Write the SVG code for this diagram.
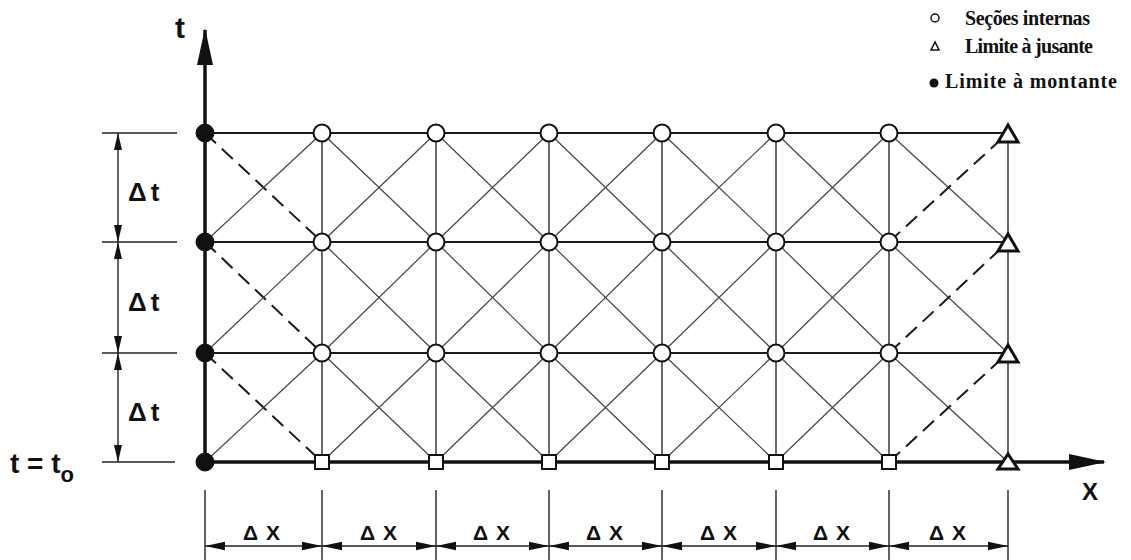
<svg xmlns="http://www.w3.org/2000/svg" width="1131" height="560" viewBox="0 0 1131 560">
<style>
  .grid-h { stroke:#1a1a1a; stroke-width:2; fill:none; }
  .grid-v { stroke:#2a2a2a; stroke-width:1.4; fill:none; }
  .diag { stroke:#444; stroke-width:1.2; fill:none; }
  .dash { stroke:#1a1a1a; stroke-width:2; fill:none; stroke-dasharray:15 8; }
  .axis { stroke:#111; stroke-width:3.5; fill:none; }
  .dim { stroke:#222; stroke-width:1.4; fill:none; }
  .dimarrow { stroke:#222; stroke-width:1.4; fill:none; marker-start:url(#ah); marker-end:url(#ah); }
  .dimarrow-v { stroke:#222; stroke-width:1.4; fill:none; marker-start:url(#ahv); marker-end:url(#ahv); }
  .open { fill:#fff; stroke:#111; stroke-width:2; }
  .fill { fill:#111; stroke:#111; stroke-width:1; }
  .sq { fill:#fff; stroke:#111; stroke-width:2; }
  .tri { fill:#fff; stroke:#111; stroke-width:3; stroke-linejoin:miter; }
  .lbl { font-family:"Liberation Sans", Arial, sans-serif; font-weight:bold; fill:#111; }
  .leg { font-family:"Liberation Serif", "Times New Roman", serif; font-weight:bold; font-size:20px; fill:#111; }
</style>
<defs>
  <marker id="ah" viewBox="0 0 20 10" refX="20" refY="5" markerWidth="20" markerHeight="10" markerUnits="userSpaceOnUse" orient="auto-start-reverse">
    <path d="M0,0.8 L20,5 L0,9.2 Z" fill="#111"/>
  </marker>
  <marker id="ahv" viewBox="0 0 17 9" refX="17" refY="4.5" markerWidth="17" markerHeight="9" markerUnits="userSpaceOnUse" orient="auto-start-reverse">
    <path d="M0,0.5 L17,4.5 L0,8.5 Z" fill="#111"/>
  </marker>
  <marker id="axh" viewBox="0 0 37 16" refX="35" refY="8" markerWidth="37" markerHeight="16" markerUnits="userSpaceOnUse" orient="auto">
    <path d="M0,0 L37,8 L0,16 Z" fill="#111"/>
  </marker>
</defs>

<g id="connectors">
  <!-- horizontal grid lines -->
  <line class="grid-h" x1="205" y1="133" x2="1008" y2="133"/>
  <line class="grid-h" x1="205" y1="242" x2="1008" y2="242"/>
  <line class="grid-h" x1="205" y1="353" x2="1008" y2="353"/>
  <!-- vertical grid lines -->
  <line class="grid-v" x1="322" y1="133" x2="322" y2="462"/>
  <line class="grid-v" x1="436" y1="133" x2="436" y2="462"/>
  <line class="grid-v" x1="549" y1="133" x2="549" y2="462"/>
  <line class="grid-v" x1="662" y1="133" x2="662" y2="462"/>
  <line class="grid-v" x1="776" y1="133" x2="776" y2="462"/>
  <line class="grid-v" x1="889" y1="133" x2="889" y2="462"/>
  <line class="grid-v" x1="1008" y1="133" x2="1008" y2="462"/>
  <!-- first column: dashed down-right, solid up-right -->
  <line class="dash" x1="205" y1="133" x2="322" y2="242"/>
  <line class="dash" x1="205" y1="242" x2="322" y2="353"/>
  <line class="dash" x1="205" y1="353" x2="322" y2="462"/>
  <line class="diag" x1="205" y1="242" x2="322" y2="133"/>
  <line class="diag" x1="205" y1="353" x2="322" y2="242"/>
  <line class="diag" x1="205" y1="462" x2="322" y2="353"/>
  <!-- interior columns -->
  <path class="diag" d="M322,133 L436,242 M322,242 L436,133 M322,242 L436,353 M322,353 L436,242 M322,353 L436,462 M322,462 L436,353
    M436,133 L549,242 M436,242 L549,133 M436,242 L549,353 M436,353 L549,242 M436,353 L549,462 M436,462 L549,353
    M549,133 L662,242 M549,242 L662,133 M549,242 L662,353 M549,353 L662,242 M549,353 L662,462 M549,462 L662,353
    M662,133 L776,242 M662,242 L776,133 M662,242 L776,353 M662,353 L776,242 M662,353 L776,462 M662,462 L776,353
    M776,133 L889,242 M776,242 L889,133 M776,242 L889,353 M776,353 L889,242 M776,353 L889,462 M776,462 L889,353"/>
  <!-- last column: solid down-right, dashed up-right -->
  <line class="diag" x1="889" y1="133" x2="1008" y2="242"/>
  <line class="diag" x1="889" y1="242" x2="1008" y2="353"/>
  <line class="diag" x1="889" y1="353" x2="1008" y2="462"/>
  <line class="dash" x1="889" y1="242" x2="1008" y2="133"/>
  <line class="dash" x1="889" y1="353" x2="1008" y2="242"/>
  <line class="dash" x1="889" y1="462" x2="1008" y2="353"/>
  <!-- axes -->
  <line class="axis" x1="205" y1="462" x2="205" y2="30" marker-end="url(#axh)"/>
  <line class="axis" x1="205" y1="462" x2="1104" y2="462" marker-end="url(#axh)"/>
  <!-- left dimension -->
  <line class="dim" x1="102" y1="133" x2="177" y2="133"/>
  <line class="dim" x1="102" y1="242" x2="177" y2="242"/>
  <line class="dim" x1="102" y1="353" x2="177" y2="353"/>
  <line class="dim" x1="102" y1="462" x2="175" y2="462"/>
  <line class="dimarrow-v" x1="118" y1="133" x2="118" y2="242"/>
  <line class="dimarrow-v" x1="118" y1="242" x2="118" y2="353"/>
  <line class="dimarrow-v" x1="118" y1="353" x2="118" y2="462"/>
  <!-- bottom dimension -->
  <line class="dim" x1="205" y1="490" x2="205" y2="560"/>
  <line class="dim" x1="322" y1="490" x2="322" y2="560"/>
  <line class="dim" x1="436" y1="490" x2="436" y2="560"/>
  <line class="dim" x1="549" y1="490" x2="549" y2="560"/>
  <line class="dim" x1="662" y1="490" x2="662" y2="560"/>
  <line class="dim" x1="776" y1="490" x2="776" y2="560"/>
  <line class="dim" x1="889" y1="490" x2="889" y2="560"/>
  <line class="dim" x1="1008" y1="490" x2="1008" y2="560"/>
  <line class="dimarrow" x1="205" y1="546" x2="322" y2="546"/>
  <line class="dimarrow" x1="322" y1="546" x2="436" y2="546"/>
  <line class="dimarrow" x1="436" y1="546" x2="549" y2="546"/>
  <line class="dimarrow" x1="549" y1="546" x2="662" y2="546"/>
  <line class="dimarrow" x1="662" y1="546" x2="776" y2="546"/>
  <line class="dimarrow" x1="776" y1="546" x2="889" y2="546"/>
  <line class="dimarrow" x1="889" y1="546" x2="1008" y2="546"/>
</g>

<!-- upstream boundary nodes -->
<g id="up0"><circle class="fill" cx="205" cy="133" r="9"/></g>
<g id="up1"><circle class="fill" cx="205" cy="242" r="9"/></g>
<g id="up2"><circle class="fill" cx="205" cy="353" r="9"/></g>
<g id="up3"><circle class="fill" cx="205" cy="462" r="9"/></g>

<!-- internal sections -->
<g id="n1-0"><circle class="open" cx="322" cy="133" r="8.5"/></g>
<g id="n2-0"><circle class="open" cx="436" cy="133" r="8.5"/></g>
<g id="n3-0"><circle class="open" cx="549" cy="133" r="8.5"/></g>
<g id="n4-0"><circle class="open" cx="662" cy="133" r="8.5"/></g>
<g id="n5-0"><circle class="open" cx="776" cy="133" r="8.5"/></g>
<g id="n6-0"><circle class="open" cx="889" cy="133" r="8.5"/></g>
<g id="n1-1"><circle class="open" cx="322" cy="242" r="8.5"/></g>
<g id="n2-1"><circle class="open" cx="436" cy="242" r="8.5"/></g>
<g id="n3-1"><circle class="open" cx="549" cy="242" r="8.5"/></g>
<g id="n4-1"><circle class="open" cx="662" cy="242" r="8.5"/></g>
<g id="n5-1"><circle class="open" cx="776" cy="242" r="8.5"/></g>
<g id="n6-1"><circle class="open" cx="889" cy="242" r="8.5"/></g>
<g id="n1-2"><circle class="open" cx="322" cy="353" r="8.5"/></g>
<g id="n2-2"><circle class="open" cx="436" cy="353" r="8.5"/></g>
<g id="n3-2"><circle class="open" cx="549" cy="353" r="8.5"/></g>
<g id="n4-2"><circle class="open" cx="662" cy="353" r="8.5"/></g>
<g id="n5-2"><circle class="open" cx="776" cy="353" r="8.5"/></g>
<g id="n6-2"><circle class="open" cx="889" cy="353" r="8.5"/></g>

<!-- initial condition nodes -->
<g id="s1"><rect class="sq" x="315" y="455" width="14" height="14"/></g>
<g id="s2"><rect class="sq" x="429" y="455" width="14" height="14"/></g>
<g id="s3"><rect class="sq" x="542" y="455" width="14" height="14"/></g>
<g id="s4"><rect class="sq" x="655" y="455" width="14" height="14"/></g>
<g id="s5"><rect class="sq" x="769" y="455" width="14" height="14"/></g>
<g id="s6"><rect class="sq" x="882" y="455" width="14" height="14"/></g>

<!-- downstream boundary nodes -->
<g id="dn0"><polygon class="tri" points="1008,125 998,142 1018,142"/></g>
<g id="dn1"><polygon class="tri" points="1008,234 998,251 1018,251"/></g>
<g id="dn2"><polygon class="tri" points="1008,345 998,362 1018,362"/></g>
<g id="dn3"><polygon class="tri" points="1008,454 998,469 1018,469"/></g>

<!-- labels -->
<g id="labels">
  <text class="lbl" x="180" y="38" font-size="30" text-anchor="middle">t</text>
  <text class="lbl" x="1090" y="500" font-size="24" text-anchor="middle">X</text>
  <text class="lbl" x="10" y="473" font-size="28">t = t<tspan font-size="22" dy="9">o</tspan></text>
  <text class="lbl" x="128" y="201" font-size="26" letter-spacing="4">Δt</text>
  <text class="lbl" x="128" y="311" font-size="26" letter-spacing="4">Δt</text>
  <text class="lbl" x="128" y="421" font-size="26" letter-spacing="4">Δt</text>
  <text class="lbl" x="243" y="540" font-size="21" letter-spacing="8">ΔX</text>
  <text class="lbl" x="360" y="540" font-size="21" letter-spacing="8">ΔX</text>
  <text class="lbl" x="473" y="540" font-size="21" letter-spacing="8">ΔX</text>
  <text class="lbl" x="586" y="540" font-size="21" letter-spacing="8">ΔX</text>
  <text class="lbl" x="700" y="540" font-size="21" letter-spacing="8">ΔX</text>
  <text class="lbl" x="813" y="540" font-size="21" letter-spacing="8">ΔX</text>
  <text class="lbl" x="929" y="540" font-size="21" letter-spacing="8">ΔX</text>
</g>

<!-- legend -->
<g id="legend">
  <circle cx="935" cy="18" r="4" fill="#fff" stroke="#111" stroke-width="1.5"/>
  <polygon points="935,42 931,50 939,50" fill="#fff" stroke="#111" stroke-width="1.5"/>
  <circle cx="934" cy="83" r="4.5" fill="#111"/>
  <text class="leg" x="965" y="25" textLength="125">Seções internas</text>
  <text class="leg" x="965" y="53" textLength="128">Limite à jusante</text>
  <text class="leg" x="945" y="88" textLength="172">Limite à montante</text>
</g>
</svg>
